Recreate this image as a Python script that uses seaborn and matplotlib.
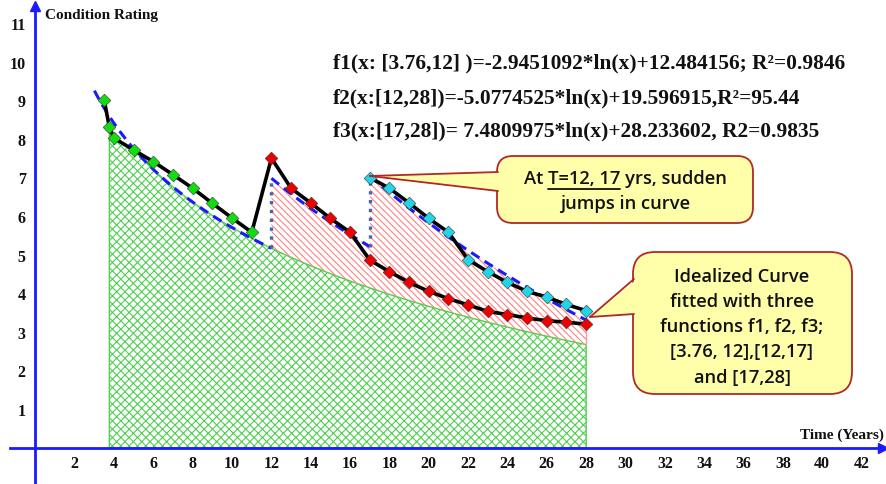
import numpy as np
import pandas as pd
import matplotlib
matplotlib.use("Agg")
import matplotlib.pyplot as plt
import seaborn as sns
from matplotlib.patches import FancyBboxPatch, Polygon
from matplotlib.transforms import IdentityTransform
from matplotlib.lines import Line2D

# ---------------- data ----------------
green_x = [3.5, 3.76, 4, 5, 6, 7, 8, 9, 10, 11]
green_y = [9.0, 8.30, 8.02, 7.71, 7.41, 7.07, 6.72, 6.33, 5.95, 5.58]
red_x = list(range(12, 29))
red_y = [7.5, 6.72, 6.34, 5.94, 5.58, 4.86, 4.56, 4.28, 4.05, 3.86, 3.70,
         3.53, 3.45, 3.36, 3.29, 3.25, 3.20]
cyan_x = list(range(17, 29))
cyan_y = [7.0, 6.72, 6.34, 5.94, 5.58, 4.87, 4.56, 4.28, 4.05, 3.90, 3.71, 3.55]

fit_a = [-2.9451092, -5.0774525, -7.4809975]
fit_b = [12.484156, 19.596915, 28.233602]
fit_start = [3.0, 12.0, 17.0]
fit_end = [12.0, 17.0, 28.0]

x_ticks = list(range(2, 43, 2))
y_ticks = list(range(1, 12))

eq_lines = [
    "f1(x: [3.76,12] )=-2.9451092*ln(x)+12.484156; R\u00b2=0.9846",
    "f2(x:[12,28])=-5.0774525*ln(x)+19.596915,R\u00b2=95.44",
    "f3(x:[17,28])= 7.4809975*ln(x)+28.233602, R2=0.9835",
]
callout2_lines = ["Idealized Curve", "fitted with three", "functions f1, f2, f3;",
                  "[3.76, 12],[12,17]", "and [17,28]"]

# ---------------- style ----------------
sns.set_theme(style="white")
plt.rcParams["font.family"] = ["Liberation Serif", "DejaVu Serif"]
plt.rcParams["hatch.linewidth"] = 0.8

W, H = 886, 485
fig = plt.figure(figsize=(W / 100, H / 100), dpi=100)
ax = fig.add_axes([0, 0, 1, 1])
ax.set_facecolor("white")

px_per_x = 19.67
x0_px = 35.4
px_per_y = 38.6
y0_px = 448.7
ax.set_xlim(-x0_px / px_per_x, (W - x0_px) / px_per_x)
ax.set_ylim(-(H - y0_px) / px_per_y, y0_px / px_per_y)

def f(i, x):
    return fit_a[i] * np.log(x) + fit_b[i]

# ---------------- hatched areas ----------------
black_x = green_x + red_x
black_y = green_y + red_y
xs = np.linspace(3.76, 28, 500)
top_g = np.minimum(f(0, xs), np.interp(xs, black_x, black_y))
ax.fill_between(xs, 0, top_g, facecolor="none", edgecolor="#4fd04f",
                hatch="xxxx", linewidth=1.0, zorder=1)

xs2 = np.linspace(12, 17, 200)
ax.fill_between(xs2, f(0, xs2), f(1, xs2), facecolor="none", edgecolor="#ff8080",
                hatch="\\\\\\\\\\", linewidth=0, zorder=1)
xs3 = np.linspace(17, 28, 300)
ax.fill_between(xs3, f(0, xs3), f(1, xs3), facecolor="none", edgecolor="#ff8080",
                hatch="\\\\\\\\\\", linewidth=0, zorder=1)
ax.fill_between(xs3, f(1, xs3), f(2, xs3), facecolor="none", edgecolor="#ff8080",
                hatch="\\\\\\\\\\", linewidth=0, zorder=1)
ax.plot([28, 28], [f(0, 28), f(2, 28)], color="#ff9a9a", lw=1, zorder=1)

# ---------------- fitted curves ----------------
for i in range(3):
    xx = np.linspace(fit_start[i], fit_end[i], 200)
    ax.plot(xx, f(i, xx), color="#1a1aff", lw=2.2, dashes=(3.2, 2.0), zorder=3)
for xv, lo, hi in [(12, 0, 1), (17, 1, 2)]:
    ax.plot([xv, xv], [f(lo, xv), f(hi, xv)], color="#4466aa", lw=2.4,
            ls=":", zorder=3)

# ---------------- data lines & markers ----------------
df_a = pd.DataFrame({"x": black_x, "y": black_y})
df_c = pd.DataFrame({"x": cyan_x, "y": cyan_y})
sns.lineplot(data=df_a, x="x", y="y", sort=False, estimator=None, color="black",
             lw=2.6, ax=ax, zorder=4)
sns.lineplot(data=df_c, x="x", y="y", sort=False, estimator=None, color="black",
             lw=2.6, ax=ax, zorder=4)
for xv, yv, col in [(green_x, green_y, "#11dd11"), (red_x, red_y, "#ee0000"),
                    (cyan_x, cyan_y, "#22d4e6")]:
    sns.scatterplot(x=xv, y=yv, marker="D", s=42, color=col, edgecolor="#333333",
                    linewidth=0.4, ax=ax, zorder=5)

# ---------------- axes ----------------
axis_blue = "#1a1aff"
for s in ["top", "right"]:
    ax.spines[s].set_visible(False)
ax.spines["left"].set_position(("data", 0))
ax.spines["bottom"].set_position(("data", 0))
ax.spines["left"].set_color(axis_blue)
ax.spines["bottom"].set_color(axis_blue)
ax.spines["left"].set_linewidth(2)
ax.spines["bottom"].set_linewidth(2)
ax.spines["bottom"].set_bounds(-1.29, 43.1)
ax.spines["left"].set_bounds(-0.94, 11.45)
ax.plot([43.1], [0], marker=">", color=axis_blue, ms=7, clip_on=False, zorder=6)
ax.plot([0], [11.45], marker="^", color=axis_blue, ms=7, clip_on=False, zorder=6)
ax.set_xticks(x_ticks)
ax.set_yticks(y_ticks)
ax.set_xticklabels([str(t) for t in x_ticks])
ax.set_yticklabels([str(t) for t in y_ticks])
ax.tick_params(axis="both", direction="inout", length=10, width=1.2,
               color=axis_blue, labelsize=11.5, labelcolor="#111111")
ax.tick_params(axis="x", pad=0.5)
ax.tick_params(axis="y", pad=2)
for lab in ax.get_xticklabels() + ax.get_yticklabels():
    lab.set_fontweight("bold")
ax.set_xlabel("")
ax.set_ylabel("")
ax.grid(False)

# ---------------- texts ----------------
def fp(x, y):
    return x / W, 1 - y / H

serif = ["Liberation Serif", "DejaVu Serif"]
sans = ["Open Sans", "DejaVu Sans"]
fig.text(*fp(45, 16), "Condition Rating", family=serif, weight="bold", fontsize=11,
         ha="left", va="center", color="#111111")
fig.text(*fp(884, 435), "Time (Years)", family=serif, weight="bold", fontsize=11,
         ha="right", va="center", color="#111111")
for txt, yy in zip(eq_lines, [63, 98, 131]):
    fig.text(*fp(333, yy), txt, family=serif, weight="bold", fontsize=15.4,
             ha="left", va="center", color="#111111")

# ---------------- callouts ----------------
face = "#ffffaa"
edge = "#b02828"
disp = IdentityTransform()

def dy(y):
    return H - y

def callout(x0, y0, x1, y1, r, tip, b1, b2):
    box = FancyBboxPatch((x0, dy(y1)), x1 - x0, y1 - y0,
                         boxstyle="round,pad=0,rounding_size=%d" % r,
                         facecolor=face, edgecolor=edge, lw=1.3,
                         transform=disp, zorder=10)
    fig.add_artist(box)
    tail = Polygon([(tip[0], dy(tip[1])), (b1[0], dy(b1[1])), (b2[0], dy(b2[1]))],
                   closed=True, facecolor=face, edgecolor="none",
                   transform=disp, zorder=11)
    fig.add_artist(tail)
    for b in (b1, b2):
        fig.add_artist(Line2D([tip[0], b[0] - 3], [dy(tip[1]), dy(b[1])],
                              color=edge, lw=1.3, transform=disp, zorder=12))

callout(497, 157, 753, 224, 16, (370, 177), (501, 173), (501, 192))
callout(633, 253, 852, 395, 22, (590, 318), (637, 280), (637, 315))

# callout 1 text with underline
c1x = 625
fs_call = 13.2
line1 = "At T=12, 17 yrs, sudden"
t1 = fig.text(*fp(c1x, 179), line1, family=sans, weight="semibold", fontsize=fs_call,
              ha="center", va="center", color="#111111", zorder=13)
fig.text(*fp(c1x, 204), "jumps in curve", family=sans, weight="semibold",
         fontsize=fs_call, ha="center", va="center", color="#111111", zorder=13)
fig.canvas.draw()
r = fig.canvas.get_renderer()

def width(s):
    tt = fig.text(0, 0, s, family=sans, weight="semibold", fontsize=fs_call)
    w = tt.get_window_extent(r).width
    tt.remove()
    return w

full_w = width(line1)
left = c1x - full_w / 2
w_a = width("At T=12, 17")
w_b = width("T=12, 17")
u0 = left + (w_a - w_b)
u1 = left + w_a
fig.add_artist(Line2D([u0, u1], [dy(190), dy(190)], color="#111111", lw=1.3,
                      transform=disp, zorder=13))

for txt, yy in zip(callout2_lines, [277, 302, 327, 352, 378]):
    fig.text(*fp(742, yy), txt, family=sans, weight="semibold", fontsize=fs_call,
             ha="center", va="center", color="#111111", zorder=13)

fig.savefig("out.png", dpi=100, facecolor="white")
